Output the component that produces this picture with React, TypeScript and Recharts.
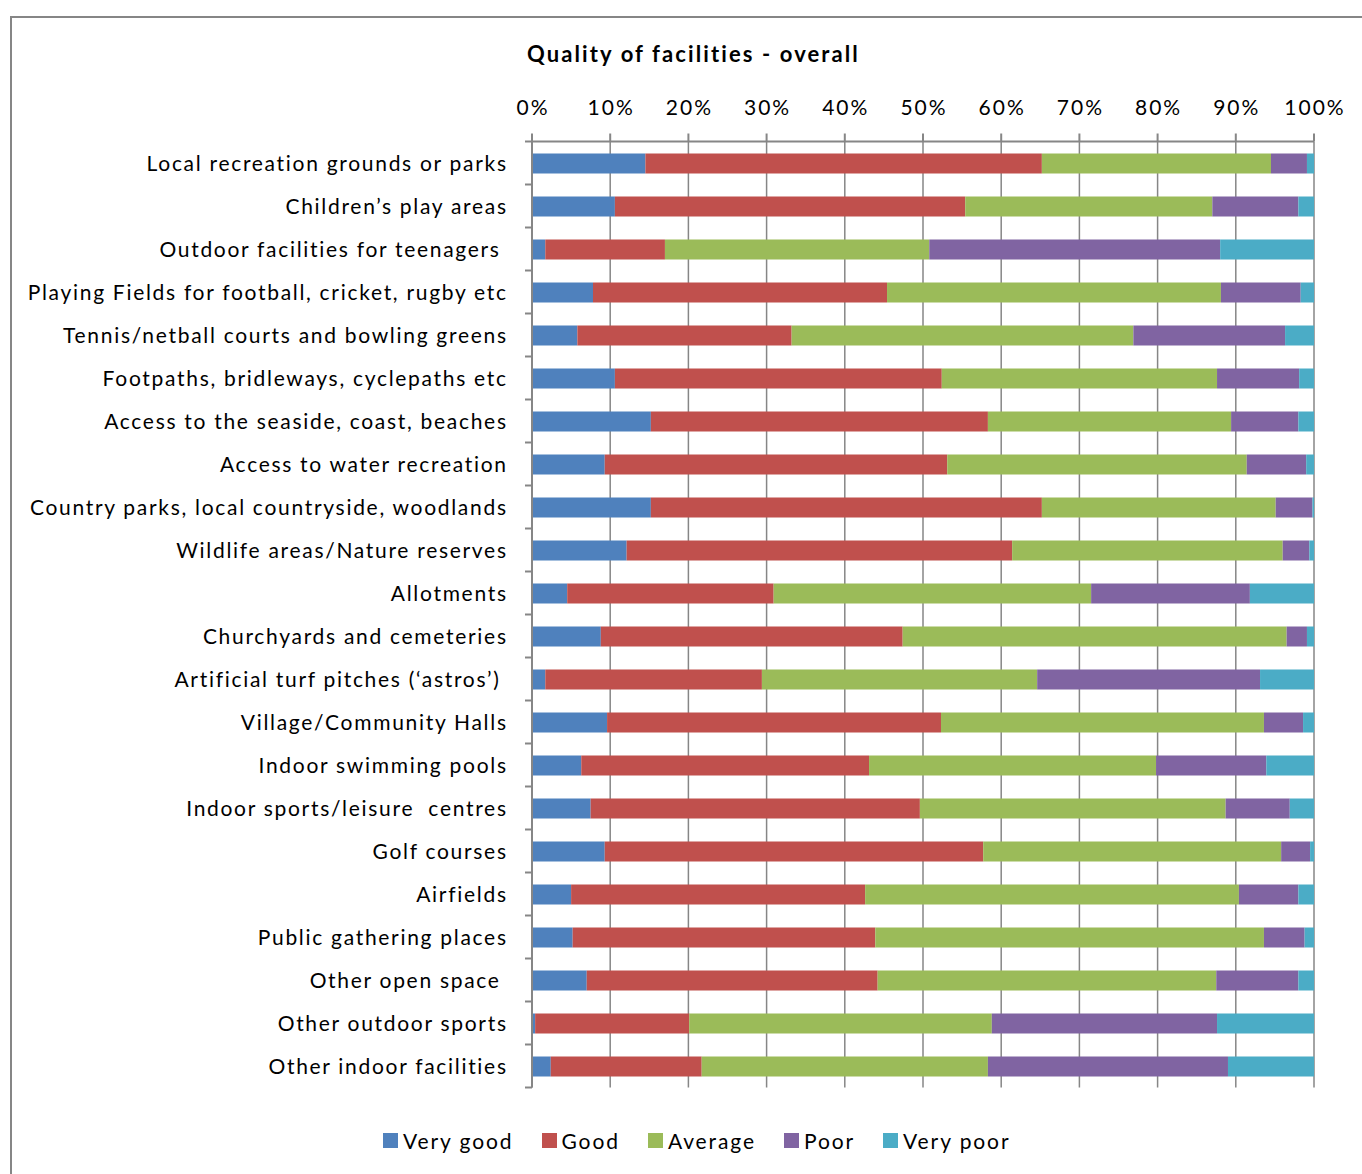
import { BarChart, Bar, XAxis, YAxis, CartesianGrid } from "recharts";

const categories = [
  "Local recreation grounds or parks",
  "Children\u2019s play areas",
  "Outdoor facilities for teenagers\u00A0",
  "Playing Fields for football, cricket, rugby etc",
  "Tennis/netball courts and bowling greens",
  "Footpaths, bridleways, cyclepaths etc",
  "Access to the seaside, coast, beaches",
  "Access to water recreation",
  "Country parks, local countryside, woodlands",
  "Wildlife areas/Nature reserves",
  "Allotments",
  "Churchyards and cemeteries",
  "Artificial turf pitches (\u2018astros\u2019)\u00A0",
  "Village/Community Halls",
  "Indoor swimming pools",
  "Indoor sports/leisure\u00A0\u00A0centres",
  "Golf courses",
  "Airfields",
  "Public gathering places",
  "Other open space\u00A0",
  "Other outdoor sports",
  "Other indoor facilities",
];

const veryGood = [14.5, 10.6, 1.7, 7.8, 5.8, 10.6, 15.2, 9.3, 15.2, 12.1, 4.5, 8.8, 1.7, 9.6, 6.3, 7.5, 9.3, 5.0, 5.2, 7.0, 0.4, 2.4];
const good = [50.7, 44.8, 15.3, 37.6, 27.4, 41.8, 43.1, 43.8, 50.0, 49.3, 26.4, 38.6, 27.7, 42.7, 36.8, 42.1, 48.4, 37.6, 38.7, 37.2, 19.7, 19.3];
const average = [29.3, 31.6, 33.8, 42.7, 43.7, 35.2, 31.1, 38.3, 29.9, 34.6, 40.6, 49.1, 35.2, 41.3, 36.7, 39.1, 38.1, 47.8, 49.7, 43.3, 38.7, 36.6];
const poor = [4.6, 11.0, 37.2, 10.2, 19.4, 10.5, 8.6, 7.6, 4.7, 3.4, 20.3, 2.6, 28.5, 5.0, 14.1, 8.2, 3.7, 7.6, 5.2, 10.5, 28.8, 30.7];
const veryPoor = [0.9, 2.0, 12.0, 1.7, 3.7, 1.9, 2.0, 1.0, 0.2, 0.6, 8.2, 0.9, 6.9, 1.4, 6.1, 3.1, 0.5, 2.0, 1.2, 2.0, 12.4, 11.0];

const xTicks = [0, 0.1, 0.2, 0.3, 0.4, 0.5, 0.6, 0.7, 0.8, 0.9, 1];

const series = [
  { key: "Very good", values: veryGood, color: "#4F81BD" },
  { key: "Good", values: good, color: "#C0504D" },
  { key: "Average", values: average, color: "#9BBB59" },
  { key: "Poor", values: poor, color: "#8064A2" },
  { key: "Very poor", values: veryPoor, color: "#4BACC6" },
];

const data = categories.map((name, i) => {
  const row: Record<string, string | number> = { name };
  series.forEach(s => { row[s.key] = s.values[i]; });
  return row;
});

const W = 1362;
const H = 1174;
const M = { top: 111.5, right: 48, bottom: 86.5, left: 12 };
const X_AXIS_H = 30;
const Y_AXIS_W = 520;
const AXIS_X = M.left + Y_AXIS_W;
const PLOT_H = H - M.top - M.bottom - X_AXIS_H;
const ROW = PLOT_H / categories.length;
const GREY = "#868686";
const FONT = "Lato, 'Open Sans', sans-serif";

function CatTick(props: any) {
  const { x, y, payload, index, visibleTicksCount } = props;
  const h = ROW / 2;
  return (
    <g>
      <text x={x + 1.7} y={y} dy="0.36em" textAnchor="end" fill="#000" fontSize={21} fontFamily={FONT} letterSpacing={1.7} style={{ whiteSpace: "pre" }}>
        {payload.value}
      </text>
      <line x1={AXIS_X - 7} x2={AXIS_X} y1={y - h} y2={y - h} stroke={GREY} strokeWidth={2} />
      {index === visibleTicksCount - 1 && (
        <line x1={AXIS_X - 7} x2={AXIS_X} y1={y + h} y2={y + h} stroke={GREY} strokeWidth={2} />
      )}
    </g>
  );
}

function PctTick(props: any) {
  const { x, y, payload } = props;
  return (
    <text x={x + 1} y={y - 1} textAnchor="middle" fill="#000" fontSize={21} fontFamily={FONT} letterSpacing={2}>
      {`${Math.round(Number(payload.value) * 100)}%`}
    </text>
  );
}

export default function App() {
  return (
    <div style={{ position: "absolute", left: 0, top: 0, width: W, height: H, background: "#fff", overflow: "hidden" }}>
      <div style={{ position: "absolute", left: 10, top: 16, width: W, height: H, border: `2px solid ${GREY}`, boxSizing: "border-box" }} />
      <div style={{ position: "absolute", left: 527, top: 40, whiteSpace: "nowrap", fontFamily: FONT, fontWeight: 700, fontSize: 22, letterSpacing: 2.1, color: "#000" }}>
        Quality of facilities - overall
      </div>
      <BarChart
        width={W}
        height={H}
        data={data}
        layout="vertical"
        stackOffset="expand"
        barSize={20}
        margin={M}
        style={{ position: "absolute", left: 0, top: 0 }}
      >
        <CartesianGrid horizontal={false} vertical stroke={GREY} strokeWidth={1.5} />
        <XAxis
          type="number"
          orientation="top"
          domain={[0, 1]}
          ticks={xTicks}
          height={X_AXIS_H}
          tick={<PctTick />}
          tickSize={8}
          tickMargin={18}
          stroke={GREY}
          axisLine={{ stroke: GREY, strokeWidth: 2 }}
          tickLine={{ stroke: GREY, strokeWidth: 2 }}
          interval={0}
        />
        <YAxis
          type="category"
          dataKey="name"
          width={Y_AXIS_W}
          tick={<CatTick />}
          tickLine={false}
          tickSize={7}
          tickMargin={19}
          axisLine={{ stroke: GREY, strokeWidth: 2 }}
          interval={0}
        />
        {series.map(s => (
          <Bar key={s.key} dataKey={s.key} stackId="a" fill={s.color} isAnimationActive={false} />
        ))}
      </BarChart>
      <div style={{ position: "absolute", left: 383, top: 1128, display: "flex", alignItems: "center", fontFamily: FONT, fontSize: 21, letterSpacing: 1.9, color: "#000" }}>
        {series.map(s => (
          <div key={s.key} style={{ display: "flex", alignItems: "center", marginRight: 28 }}>
            <span style={{ display: "inline-block", width: 15, height: 15, background: s.color, marginRight: 5 }} />
            <span>{s.key}</span>
          </div>
        ))}
      </div>
    </div>
  );
}
